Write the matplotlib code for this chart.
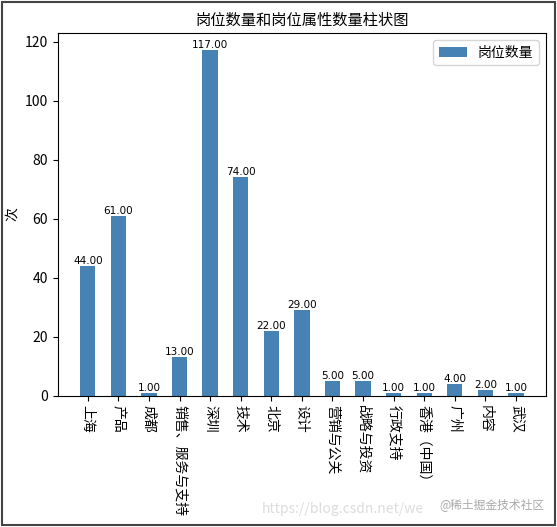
import matplotlib
matplotlib.use('Agg')
import matplotlib.pyplot as plt
from matplotlib.patches import Rectangle

plt.rcParams['font.family'] = ['Noto Sans CJK SC', 'DejaVu Sans']
plt.rcParams['axes.unicode_minus'] = False

categories = ['上海', '产品', '成都', '销售、服务与支持', '深圳', '技术', '北京', '设计',
              '营销与公关', '战略与投资', '行政支持', '香港（中国）', '广州', '内容', '武汉']
counts = [44, 61, 1, 13, 117, 74, 22, 29, 5, 5, 1, 1, 4, 2, 1]

fig = plt.figure(figsize=(5.57, 5.27), dpi=100)
ax = fig.add_axes([0.104, 0.249, 0.876, 0.688])

bars = ax.bar(categories, counts, width=0.5, color='steelblue', label='岗位数量')
for b, v in zip(bars, counts):
    ax.text(b.get_x() + b.get_width() / 2, v, '%.2f' % v, ha='center', va='bottom',
            fontsize=7.5, family='DejaVu Sans')

ax.set_title('岗位数量和岗位属性数量柱状图', fontsize=11)
ax.set_ylabel('次', fontsize=10)
ax.tick_params(axis='x', labelrotation=270, labelsize=10)
ax.tick_params(axis='y', labelsize=10)
ax.legend(loc='upper right', fontsize=10)

# screenshot frame and watermark
fig.patches.append(Rectangle((0.003, 0.004), 0.994, 0.992, transform=fig.transFigure,
                             fill=False, edgecolor='#444444', linewidth=1.5))
fig.text(0.47, 0.035, 'https://blog.csdn.net/we',
         ha='left', va='center', fontsize=10, color='#dddddd')
fig.text(0.978, 0.042, '@稀土掘金技术社区',
         ha='right', va='center', fontsize=8.5, color='#aaaaaa')

fig.savefig('out.png', dpi=100)
